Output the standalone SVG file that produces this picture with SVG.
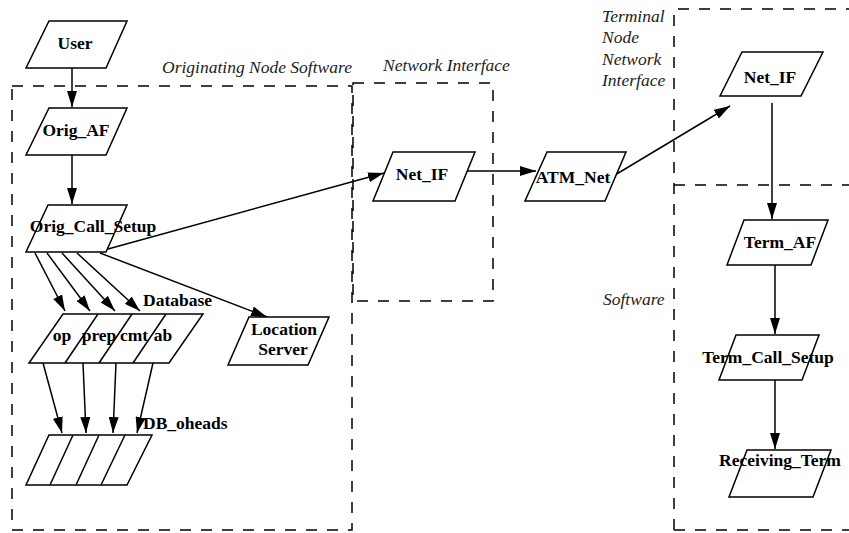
<svg xmlns="http://www.w3.org/2000/svg" width="849" height="533" viewBox="0 0 849 533">
<style>
.n{fill:#fff;stroke:#000;stroke-width:1.5;stroke-linejoin:miter}
.d{fill:none;stroke:#000;stroke-width:1.5}
.b{fill:none;stroke:#000;stroke-width:1.5;stroke-dasharray:11 10}
.t{font-family:"Liberation Serif","Times New Roman",serif;font-weight:bold;font-size:17.5px;fill:#000;text-anchor:middle}
.l{font-family:"Liberation Serif","Times New Roman",serif;font-weight:bold;font-size:17.5px;fill:#000}
.i{font-family:"Liberation Serif","Times New Roman",serif;font-style:italic;font-size:17.5px;fill:#222}
.c{fill:none;stroke:#000;stroke-width:1.5;marker-end:url(#ah)}
</style>
<defs>
<marker id="ah" viewBox="0 0 16 10" refX="16" refY="5" markerWidth="16" markerHeight="10" orient="auto" markerUnits="userSpaceOnUse">
<path d="M0,0 L16,5 L0,10 z" fill="#000"/>
</marker>
</defs>
<rect width="849" height="533" fill="#fff"/>
<g id="boxes">
<rect class="b" x="12" y="86" width="340" height="444"/>
<rect class="b" x="353" y="83" width="140" height="218"/>
<path class="b" d="M674,530 L674,9 L870,9"/>
<path class="b" d="M674,185 L870,185"/>
<path class="b" d="M674,530 L870,530"/>
</g>
<g id="labels">
<text class="i" x="162" y="73">Originating Node Software</text>
<text class="i" x="383" y="71">Network Interface</text>
<text class="i" x="602" y="22">Terminal</text>
<text class="i" x="602" y="43">Node</text>
<text class="i" x="602" y="65">Network</text>
<text class="i" x="602" y="86">Interface</text>
<text class="i" x="603" y="305">Software</text>
</g>
<g id="connectors">
<line class="c" x1="72" y1="68" x2="72" y2="107"/>
<line class="c" x1="72" y1="155" x2="72" y2="204"/>
<line class="c" x1="108" y1="249" x2="384" y2="173"/>
<line class="c" x1="463" y1="171" x2="536" y2="171"/>
<line class="c" x1="615" y1="175" x2="730" y2="106"/>
<line class="c" x1="772" y1="103" x2="772" y2="219"/>
<line class="c" x1="775" y1="265" x2="775" y2="334"/>
<line class="c" x1="775" y1="380" x2="775" y2="449"/>
<line class="c" x1="35" y1="253" x2="65" y2="311"/>
<line class="c" x1="47" y1="253" x2="90" y2="311"/>
<line class="c" x1="62" y1="253" x2="115" y2="311"/>
<line class="c" x1="77" y1="253" x2="140" y2="311"/>
<line class="c" x1="100" y1="253" x2="267" y2="317"/>
<line class="c" x1="43" y1="363" x2="62" y2="433"/>
<line class="c" x1="83" y1="363" x2="86" y2="433"/>
<line class="c" x1="116" y1="363" x2="113" y2="433"/>
<line class="c" x1="153" y1="363" x2="137" y2="433"/>
</g>
<g id="User">
<polygon class="n" points="49,21 127,21 106,68 26,68"/>
<text class="t" x="75" y="49">User</text>
</g>
<g id="Orig_AF">
<polygon class="n" points="49,108 127,108 106,155 26,155"/>
<text class="t" x="76" y="136">Orig_AF</text>
</g>
<g id="Orig_Call_Setup">
<polygon class="n" points="48,205 127,205 106,252 26,252"/>
<text class="t" x="93" y="232">Orig_Call_Setup</text>
</g>
<g id="Database">
<polygon class="n" points="63,314 203,314 169,363 29,363"/>
<line class="d" x1="98" y1="314" x2="65" y2="363"/>
<line class="d" x1="132" y1="314" x2="99" y2="363"/>
<line class="d" x1="166" y1="314" x2="133" y2="363"/>
<text class="l" x="143" y="306">Database</text>
<text class="t" x="62" y="341">op</text>
<text class="t" x="99" y="341">prep</text>
<text class="t" x="134" y="341">cmt</text>
<text class="t" x="163" y="341">ab</text>
</g>
<g id="DB_oheads">
<polygon class="n" points="49,435 152,435 127,485 26,485"/>
<line class="d" x1="73" y1="435" x2="50" y2="485"/>
<line class="d" x1="99" y1="435" x2="76" y2="485"/>
<line class="d" x1="125" y1="435" x2="101" y2="485"/>
<text class="l" x="143" y="429">DB_oheads</text>
</g>
<g id="Location_Server">
<polygon class="n" points="249,317 329,317 308,365 228,365"/>
<text class="t" x="284" y="335">Location</text>
<text class="t" x="283" y="355">Server</text>
</g>
<g id="Net_IF_orig">
<polygon class="n" points="393,152 475,152 455,201 373,201"/>
<text class="t" x="422" y="180">Net_IF</text>
</g>
<g id="ATM_Net">
<polygon class="n" points="547,152 626,152 605,201 525,201"/>
<text class="t" x="573" y="183">ATM_Net</text>
</g>
<g id="Net_IF_term">
<polygon class="n" points="742,52 823,52 801,96 720,96"/>
<text class="t" x="770" y="83">Net_IF</text>
</g>
<g id="Term_AF">
<polygon class="n" points="744,220 828,220 811,265 727,265"/>
<text class="t" x="780" y="248">Term_AF</text>
</g>
<g id="Term_Call_Setup">
<polygon class="n" points="736,335 819,335 802,380 719,380"/>
<text class="t" x="768" y="363">Term_Call_Setup</text>
</g>
<g id="Receiving_Term">
<polygon class="n" points="747,450 831,450 813,497 729,497"/>
<text class="t" x="780" y="466">Receiving_Term</text>
</g>
</svg>
